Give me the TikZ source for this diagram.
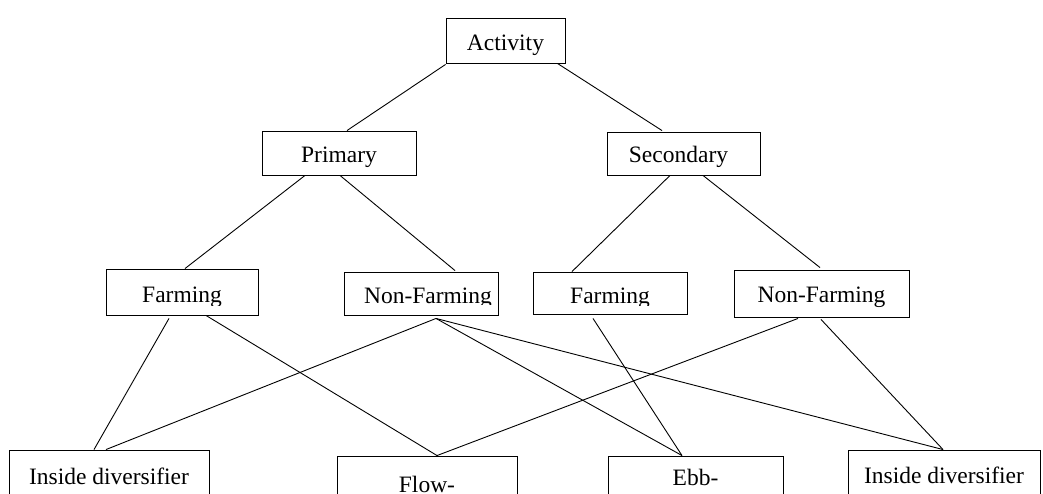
\documentclass[tikz,border=0pt]{standalone}
\usepackage{fontspec}
\setmainfont{Liberation Serif}
\begin{document}
\begin{tikzpicture}[x=1pt,y=-1pt,
  box/.style={draw, line width=0.9pt, inner sep=0pt},
  lbl/.style={anchor=base, inner sep=0pt, font=\fontsize{23.5}{28}\selectfont},
  link/.style={line width=0.9pt}]
\clip (0,0) rectangle (1043,494);

% boxes
\node[box, minimum width=119pt, minimum height=45pt] (act) at (505.5,40.5) {};
\node[box, minimum width=154pt, minimum height=44pt] (pri) at (339,153) {};
\node[box, minimum width=153pt, minimum height=43pt] (sec) at (683.5,153.5) {};
\node[box, minimum width=152pt, minimum height=46pt] (f1) at (182,292) {};
\node[box, minimum width=154pt, minimum height=43pt] (nf1) at (421,293.5) {};
\node[box, minimum width=154pt, minimum height=42pt] (f2) at (610,293) {};
\node[box, minimum width=175pt, minimum height=47pt] (nf2) at (821.5,293.5) {};
\node[box, minimum width=200pt, minimum height=60pt] (in1) at (109,480) {};
\node[box, minimum width=180pt, minimum height=60pt] (flow) at (427,486) {};
\node[box, minimum width=175pt, minimum height=60pt] (ebb) at (695.5,486) {};
\node[box, minimum width=192pt, minimum height=60pt] (in2) at (944,480) {};

% labels
\node[lbl] (act-t) at (505.5,51) {Activity};
\node[lbl] (pri-t) at (339,163) {Primary};
\node[lbl] (sec-t) at (678.5,163) {Secondary};
\begin{scope}
  \clip (106,269) rectangle (258,305);
  \node[lbl] (f1-t) at (182,302) {Farming};
\end{scope}
\begin{scope}
  \clip (344,272) rectangle (498,304);
  \node[lbl] (nf1-t) at (428,303) {Non-Farming};
\end{scope}
\begin{scope}
  \clip (533,272) rectangle (687,305);
  \node[lbl] (f2-t) at (610,303) {Farming};
\end{scope}
\node[lbl] (nf2-t) at (821.5,302) {Non-Farming};
\node[lbl] (in1-t) at (109,484) {Inside diversifier};
\node[lbl] (flow-t) at (427,492) {Flow-};
\node[lbl] (ebb-t) at (695.5,485) {Ebb-};
\node[lbl] (in2-t) at (944,483) {Inside diversifier};

% connectors
\draw[link] ([yshift=-1pt]act.south west) -- ([xshift=8pt]pri.north);
\draw[link] ([xshift=-8pt]act.south east) -- ([xshift=-21.5pt,yshift=1pt]sec.north);
\draw[link] ([xshift=-34pt]pri.south) -- ([xshift=3pt]f1.north);
\draw[link] ([xshift=1pt]pri.south) -- ([xshift=34pt,yshift=1pt]nf1.north);
\draw[link] ([xshift=-13.5pt]sec.south) -- ([xshift=-38pt]f2.north);
\draw[link] ([xshift=19.5pt]sec.south) -- ([xshift=-1.5pt,yshift=2pt]nf2.north);
\draw[link] ([xshift=-13pt,yshift=-3pt]f1.south) -- ([xshift=-15pt]in1.north);
\draw[link] ([xshift=24pt]f1.south) -- ([xshift=10pt]flow.north);
\draw[link] ([xshift=15pt,yshift=-3pt]nf1.south) -- ([xshift=-3pt]in1.north);
\draw[link] ([xshift=15pt,yshift=-3pt]nf1.south) -- ([xshift=-13.5pt]ebb.north);
\draw[link] ([xshift=15pt,yshift=-3pt]nf1.south) -- ([xshift=-1pt]in2.north);
\draw[link] ([xshift=-17pt,yshift=-4pt]f2.south) -- ([xshift=-13.5pt]ebb.north);
\draw[link] ([xshift=-23.5pt,yshift=-1pt]nf2.south) -- ([xshift=10pt]flow.north);
\draw[link] ([xshift=-0.5pt,yshift=-2pt]nf2.south) -- ([xshift=-1pt]in2.north);
\end{tikzpicture}
\end{document}
